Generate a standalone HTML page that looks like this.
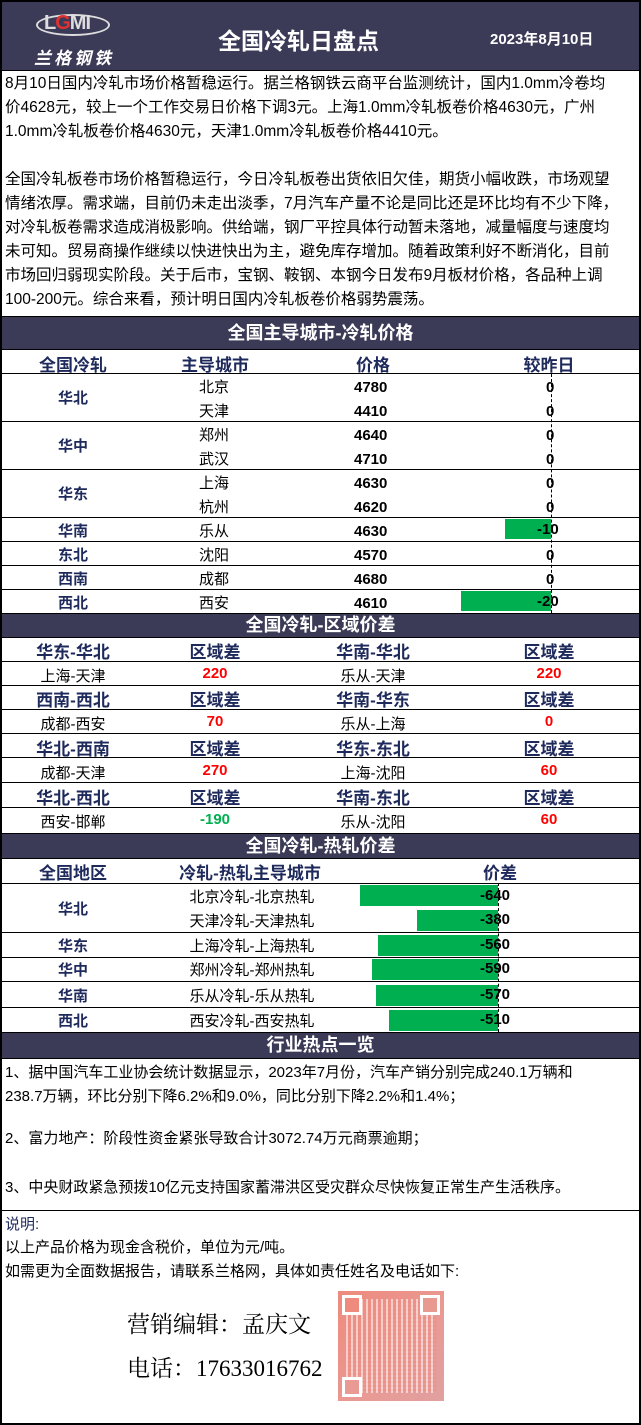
<!DOCTYPE html>
<html><head><meta charset="utf-8"><style>
*{margin:0;padding:0;box-sizing:border-box}
body{width:641px;height:1425px;position:relative;background:#fff;font-family:"Liberation Sans","Noto Sans CJK SC",sans-serif;overflow:hidden}
.a{position:absolute;white-space:nowrap}
.bar{position:absolute;background:#00b050}
.hl{position:absolute;left:0;width:641px;height:1px;background:#000}
.sec{position:absolute;left:0;width:641px;background:#3c3b57;color:#fff;font-weight:bold;font-size:18px;text-align:center;border-top:1px solid #000;border-bottom:1px solid #000}
.nv{color:#1f2a5c;font-weight:bold}
.c{position:absolute;text-align:center;white-space:nowrap;transform:translateX(-50%)}
.t{font-size:15px}
.red{color:#ff0000;font-weight:bold}
.grn{color:#00b050;font-weight:bold}
</style></head><body>
<div style="position:absolute;left:0;top:0;width:641px;height:1425px;border:2px solid #000;z-index:10;pointer-events:none"></div>
<div style="position:absolute;left:0;top:0;width:641px;height:71px;background:#3c3b57;border-bottom:1px solid #000"></div>
<div class="a" style="left:36px;top:14px;width:74px;height:22px;border:2px solid #ddd;border-radius:50%"></div>
<div class="a" style="left:44px;top:12px;font-size:20px;font-weight:bold;color:#ddd;letter-spacing:-1px">L<span style="color:#e03030">G</span>MI</div>
<div class="a" style="left:34px;top:44px;font-size:17px;color:#fff;font-weight:bold;letter-spacing:3px;font-style:italic">兰格钢铁</div>
<div class="a" style="left:218px;top:22px;font-size:23px;font-weight:bold;color:#fff">全国冷轧日盘点</div>
<div class="a" style="left:490px;top:28px;font-size:15px;font-weight:bold;color:#fff">2023年8月10日</div>

<div class="a" style="left:5px;top:72px;font-size:15.5px;line-height:24px">8月10日国内冷轧市场价格暂稳运行。据兰格钢铁云商平台监测统计，国内1.0mm冷卷均<br>价4628元，较上一个工作交易日价格下调3元。上海1.0mm冷轧板卷价格4630元，广州<br>1.0mm冷轧板卷价格4630元，天津1.0mm冷轧板卷价格4410元。<br><br>全国冷轧板卷市场价格暂稳运行，今日冷轧板卷出货依旧欠佳，期货小幅收跌，市场观望<br>情绪浓厚。需求端，目前仍未走出淡季，7月汽车产量不论是同比还是环比均有不少下降，<br>对冷轧板卷需求造成消极影响。供给端，钢厂平控具体行动暂未落地，减量幅度与速度均<br>未可知。贸易商操作继续以快进快出为主，避免库存增加。随着政策利好不断消化，目前<br>市场回归弱现实阶段。关于后市，宝钢、鞍钢、本钢今日发布9月板材价格，各品种上调<br>100-200元。综合来看，预计明日国内冷轧板卷价格弱势震荡。</div>

<div class="sec" style="top:316px;height:34px;line-height:32px">全国主导城市-冷轧价格</div>
<div class="c nv" style="left:73px;top:351px;font-size:17px">全国冷轧</div>
<div class="c nv" style="left:215px;top:351px;font-size:17px">主导城市</div>
<div class="c nv" style="left:373px;top:351px;font-size:17px">价格</div>
<div class="c nv" style="left:549px;top:351px;font-size:17px">较昨日</div>
<div class="hl" style="top:373px"></div>
<div class="bar" style="left:505px;top:519px;width:46px;height:20px"></div>
<div class="bar" style="left:461px;top:591px;width:90px;height:20px"></div>
<div class="a" style="left:551px;top:374px;height:239px;border-left:1px dashed #000"></div>
<div class="c nv t" style="left:73px;top:387px">华北</div>
<div class="c nv t" style="left:73px;top:435px">华中</div>
<div class="c nv t" style="left:73px;top:483px">华东</div>
<div class="c nv t" style="left:73px;top:520px">华南</div>
<div class="c nv t" style="left:73px;top:544px">东北</div>
<div class="c nv t" style="left:73px;top:568px">西南</div>
<div class="c nv t" style="left:73px;top:592px">西北</div>
<div class="a t" style="left:199px;top:376px;line-height:24px">北京<br>天津<br>郑州<br>武汉<br>上海<br>杭州<br>乐从<br>沈阳<br>成都<br>西安</div>
<div class="a t" style="left:354px;top:376px;line-height:24px;font-weight:bold">4780<br>4410<br>4640<br>4710<br>4630<br>4620<br>4630<br>4570<br>4680<br>4610</div>
<div class="a t" style="left:546px;top:376px;line-height:24px;font-weight:bold">0<br>0<br>0<br>0<br>0<br>0</div>
<div class="a t" style="left:537px;top:521px;font-weight:bold">-10</div>
<div class="a t" style="left:546px;top:544px;line-height:24px;font-weight:bold">0<br>0</div>
<div class="a t" style="left:537px;top:593px;font-weight:bold">-20</div>
<div class="hl" style="top:421px"></div><div class="hl" style="top:469px"></div><div class="hl" style="top:517px"></div><div class="hl" style="top:541px"></div><div class="hl" style="top:565px"></div><div class="hl" style="top:589px"></div>

<div class="sec" style="top:613px;height:25px;line-height:23px">全国冷轧-区域价差</div>
<div class="c nv" style="left:73px;top:638px;font-size:17px">华东-华北</div><div class="c nv" style="left:215px;top:638px;font-size:17px">区域差</div><div class="c nv" style="left:373px;top:638px;font-size:17px">华南-华北</div><div class="c nv" style="left:549px;top:638px;font-size:17px">区域差</div>
<div class="hl" style="top:661px"></div>
<div class="c t" style="left:73px;top:665px">上海-天津</div><div class="c t red" style="left:215px;top:665px">220</div><div class="c t" style="left:373px;top:665px">乐从-天津</div><div class="c t red" style="left:549px;top:665px">220</div>
<div class="hl" style="top:685px"></div>
<div class="c nv" style="left:73px;top:686px;font-size:17px">西南-西北</div><div class="c nv" style="left:215px;top:686px;font-size:17px">区域差</div><div class="c nv" style="left:373px;top:686px;font-size:17px">华南-华东</div><div class="c nv" style="left:549px;top:686px;font-size:17px">区域差</div>
<div class="hl" style="top:709px"></div>
<div class="c t" style="left:73px;top:713px">成都-西安</div><div class="c t red" style="left:215px;top:713px">70</div><div class="c t" style="left:373px;top:713px">乐从-上海</div><div class="c t red" style="left:549px;top:713px">0</div>
<div class="hl" style="top:733px"></div>
<div class="c nv" style="left:73px;top:735px;font-size:17px">华北-西南</div><div class="c nv" style="left:215px;top:735px;font-size:17px">区域差</div><div class="c nv" style="left:373px;top:735px;font-size:17px">华东-东北</div><div class="c nv" style="left:549px;top:735px;font-size:17px">区域差</div>
<div class="hl" style="top:757px"></div>
<div class="c t" style="left:73px;top:762px">成都-天津</div><div class="c t red" style="left:215px;top:762px">270</div><div class="c t" style="left:373px;top:762px">上海-沈阳</div><div class="c t red" style="left:549px;top:762px">60</div>
<div class="hl" style="top:782px"></div>
<div class="c nv" style="left:73px;top:784px;font-size:17px">华北-西北</div><div class="c nv" style="left:215px;top:784px;font-size:17px">区域差</div><div class="c nv" style="left:373px;top:784px;font-size:17px">华南-东北</div><div class="c nv" style="left:549px;top:784px;font-size:17px">区域差</div>
<div class="hl" style="top:807px"></div>
<div class="c t" style="left:73px;top:811px">西安-邯郸</div><div class="c t grn" style="left:215px;top:811px">-190</div><div class="c t" style="left:373px;top:811px">乐从-沈阳</div><div class="c t red" style="left:549px;top:811px">60</div>

<div class="sec" style="top:833px;height:26px;line-height:24px">全国冷轧-热轧价差</div>
<div class="c nv" style="left:73px;top:859px;font-size:17px">全国地区</div>
<div class="c nv" style="left:250px;top:859px;font-size:17px">冷轧-热轧主导城市</div>
<div class="c nv" style="left:500px;top:859px;font-size:17px">价差</div>
<div class="hl" style="top:883px"></div>
<div class="bar" style="left:360px;top:885px;width:138px;height:21px"></div>
<div class="bar" style="left:417px;top:910px;width:81px;height:21px"></div>
<div class="bar" style="left:378px;top:935px;width:120px;height:21px"></div>
<div class="bar" style="left:372px;top:959px;width:126px;height:21px"></div>
<div class="bar" style="left:376px;top:985px;width:122px;height:21px"></div>
<div class="bar" style="left:389px;top:1010px;width:109px;height:21px"></div>
<div class="a" style="left:498px;top:883px;height:149px;border-left:1px dashed #000"></div>
<div class="c nv t" style="left:73px;top:898px">华北</div>
<div class="c nv t" style="left:73px;top:935px">华东</div>
<div class="c nv t" style="left:73px;top:959px">华中</div>
<div class="c nv t" style="left:73px;top:985px">华南</div>
<div class="c nv t" style="left:73px;top:1010px">西北</div>
<div class="c t" style="left:252px;top:886px">北京冷轧-北京热轧</div>
<div class="c t" style="left:252px;top:910px">天津冷轧-天津热轧</div>
<div class="c t" style="left:252px;top:935px">上海冷轧-上海热轧</div>
<div class="c t" style="left:252px;top:959px">郑州冷轧-郑州热轧</div>
<div class="c t" style="left:252px;top:985px">乐从冷轧-乐从热轧</div>
<div class="c t" style="left:252px;top:1010px">西安冷轧-西安热轧</div>
<div class="a t" style="left:480px;top:887px;font-weight:bold">-640</div>
<div class="a t" style="left:480px;top:911px;font-weight:bold">-380</div>
<div class="a t" style="left:480px;top:936px;font-weight:bold">-560</div>
<div class="a t" style="left:480px;top:960px;font-weight:bold">-590</div>
<div class="a t" style="left:480px;top:986px;font-weight:bold">-570</div>
<div class="a t" style="left:480px;top:1011px;font-weight:bold">-510</div>
<div class="hl" style="top:932px"></div><div class="hl" style="top:957px"></div><div class="hl" style="top:981px"></div><div class="hl" style="top:1007px"></div>

<div class="sec" style="top:1032px;height:27px;line-height:25px">行业热点一览</div>
<div class="a" style="left:5px;top:1061px;font-size:15px;line-height:24px">1、据中国汽车工业协会统计数据显示，2023年7月份，汽车产销分别完成240.1万辆和<br>238.7万辆，环比分别下降6.2%和9.0%，同比分别下降2.2%和1.4%；</div>
<div class="a" style="left:5px;top:1127px;font-size:15px">2、富力地产：阶段性资金紧张导致合计3072.74万元商票逾期；</div>
<div class="a" style="left:5px;top:1176px;font-size:15px">3、中央财政紧急预拨10亿元支持国家蓄滞洪区受灾群众尽快恢复正常生产生活秩序。</div>
<div class="hl" style="top:1210px"></div>
<div class="a nv" style="left:5px;top:1213px;font-size:15px;font-weight:normal">说明:</div>
<div class="a" style="left:5px;top:1236px;font-size:15px">以上产品价格为现金含税价，单位为元/吨。</div>
<div class="a" style="left:5px;top:1260px;font-size:15px">如需更为全面数据报告，请联系兰格网，具体如责任姓名及电话如下:</div>
<div class="a" style="left:127px;top:1306px;font-size:23px;font-family:'Liberation Serif','Noto Serif CJK SC',serif">营销编辑：孟庆文</div>
<div class="a" style="left:127px;top:1350px;font-size:23px;font-family:'Liberation Serif','Noto Serif CJK SC',serif">电话：17633016762</div>
<div class="a" style="left:338px;top:1291px;width:106px;height:110px;background:linear-gradient(135deg,#ee8a7e,#e99a94 60%,#e0a0a0)">
<div style="position:absolute;left:8px;top:8px;width:90px;height:94px;background:repeating-linear-gradient(90deg,rgba(255,255,255,.55) 0 2px,transparent 2px 5px),repeating-linear-gradient(0deg,rgba(255,255,255,.0) 0 2px,rgba(238,140,128,.7) 2px 4px)"></div>
<div style="position:absolute;left:4px;top:4px;width:20px;height:20px;border:3px solid #fff;background:#ee8a7e"></div>
<div style="position:absolute;right:4px;top:4px;width:20px;height:20px;border:3px solid #fff;background:#e89a90"></div>
<div style="position:absolute;left:4px;bottom:4px;width:20px;height:20px;border:3px solid #fff;background:#e99a94"></div>
</div>
</body></html>
